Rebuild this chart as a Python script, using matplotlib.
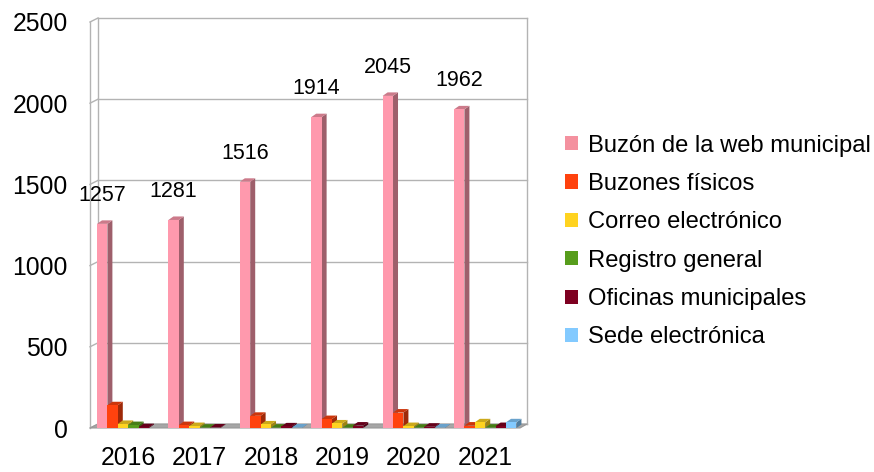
import matplotlib
matplotlib.use('Agg')
import matplotlib.pyplot as plt
from matplotlib.patches import Polygon, Rectangle, Patch
import matplotlib.colors as mcolors
import numpy as np

plt.rcParams['font.family'] = ['Liberation Sans', 'DejaVu Sans']

years = ['2016', '2017', '2018', '2019', '2020', '2021']
series_names = ['Buzón de la web municipal', 'Buzones físicos', 'Correo electrónico',
                'Registro general', 'Oficinas municipales', 'Sede electrónica']
web = [1257, 1281, 1516, 1914, 2045, 1962]
fisicos = [140, 18, 75, 55, 95, 15]
correo = [25, 12, 22, 28, 12, 35]
registro = [18, 2, 2, 2, 2, 2]
oficinas = [5, 3, 10, 15, 8, 12]
sede = [0, 0, 3, 0, 3, 35]
yticks = [0, 500, 1000, 1500, 2000, 2500]

series_values = [web, fisicos, correo, registro, oficinas, sede]
colors = ['#ff99ad', '#ff420e', '#ffd320', '#579d1c', '#7e0021', '#83caff']
legend_colors = ['#f4919f', '#ff420e', '#ffd320', '#579d1c', '#7e0021', '#83caff']

W, H = 874, 472
fig = plt.figure(figsize=(W / 100, H / 100), dpi=100)
ax_l, ax_r, ax_t, ax_b = 90, 527, 22, 428
ax = fig.add_axes([ax_l / W, 1 - ax_b / H, (ax_r - ax_l) / W, (ax_b - ax_t) / H])

nser = len(series_values)
ngrp = len(years)
bw = 0.1457
gw = bw * nser
xmin, xmax = -0.535, 5.585
ymax = 2500
ax.set_xlim(xmin, xmax)
ax.set_ylim(0, ymax)

ppx = (ax_r - ax_l) / (xmax - xmin)
ppy = (ax_b - ax_t) / ymax

def dxp(p):
    return p / ppx

def dyp(p):
    return p / ppy

def shade(c, f):
    r, g, b = mcolors.to_rgb(c)
    return (r * f, g * f, b * f)

# ---- walls / frame ----
grid_c = '#b3b3b3'
back_dy = dyp(4)
x_back_l = xmin + dxp(8)
x_front_l = xmin
for v in yticks:
    ax.plot([x_back_l, xmax], [v + back_dy, v + back_dy], color=grid_c, lw=1, zorder=1, clip_on=False)
    ax.plot([x_front_l, x_back_l], [v, v + back_dy], color=grid_c, lw=1, zorder=1, clip_on=False)
ax.plot([x_front_l, x_front_l], [0, ymax], color=grid_c, lw=1, zorder=1, clip_on=False)
ax.plot([x_back_l, x_back_l], [back_dy, ymax + back_dy], color=grid_c, lw=1, zorder=1, clip_on=False)
ax.plot([xmax, xmax], [back_dy, ymax + back_dy], color=grid_c, lw=1, zorder=1, clip_on=False)
floor = Polygon([(x_front_l, 0), (xmax - dxp(7), 0), (xmax, back_dy), (x_back_l, back_dy)],
                closed=True, facecolor='#a6a6a6', edgecolor='#999999', lw=0.8, zorder=2, clip_on=False)
ax.add_patch(floor)

# ---- 3D-like bars ----
ddx, ddy = dxp(5), dyp(3.5)
z = 3
for i in range(ngrp):
    for j, vals in enumerate(series_values):
        h = vals[i]
        if h <= 0:
            continue
        x0 = i - gw / 2 + j * bw
        x1 = x0 + bw
        c = colors[j]
        side = Polygon([(x1, 0), (x1, h), (x1 + ddx, h + ddy), (x1 + ddx, ddy)], closed=True,
                       facecolor=shade(c, 0.62), edgecolor='none', zorder=z, clip_on=False)
        top = Polygon([(x0, h), (x1, h), (x1 + ddx, h + ddy), (x0 + ddx, h + ddy)], closed=True,
                      facecolor=shade(c, 0.8), edgecolor='none', zorder=z + 0.1, clip_on=False)
        front = Rectangle((x0, 0), bw, h, facecolor=c, edgecolor='none', zorder=z + 0.2, clip_on=False)
        ax.add_patch(side)
        ax.add_patch(top)
        ax.add_patch(front)
        z += 1
    xc = i - gw / 2 + bw / 2
    ax.annotate(str(web[i]), (xc, web[i]), xytext=(0, 16.5), textcoords='offset points',
                ha='center', va='baseline', fontsize=15.5, color='#000000', zorder=200)

for s in ax.spines.values():
    s.set_visible(False)
ax.set_yticks(yticks)
ax.set_yticklabels([str(v) for v in yticks], fontsize=17.8)
ax.set_xticks(np.arange(ngrp))
ax.set_xticklabels(years, fontsize=17.8)
ax.tick_params(axis='y', length=0, pad=16)
ax.tick_params(axis='x', length=0, pad=13)

handles = [Patch(facecolor=c, edgecolor='none') for c in legend_colors]
fig.legend(handles, series_names, loc='center left', bbox_to_anchor=(565 / W, 1 - 241.5 / H),
           frameon=False, fontsize=17.1, handlelength=0.55, handleheight=0.55,
           handletextpad=0.4, labelspacing=0.69, borderpad=0, borderaxespad=0)

fig.savefig('out.png', dpi=100)
